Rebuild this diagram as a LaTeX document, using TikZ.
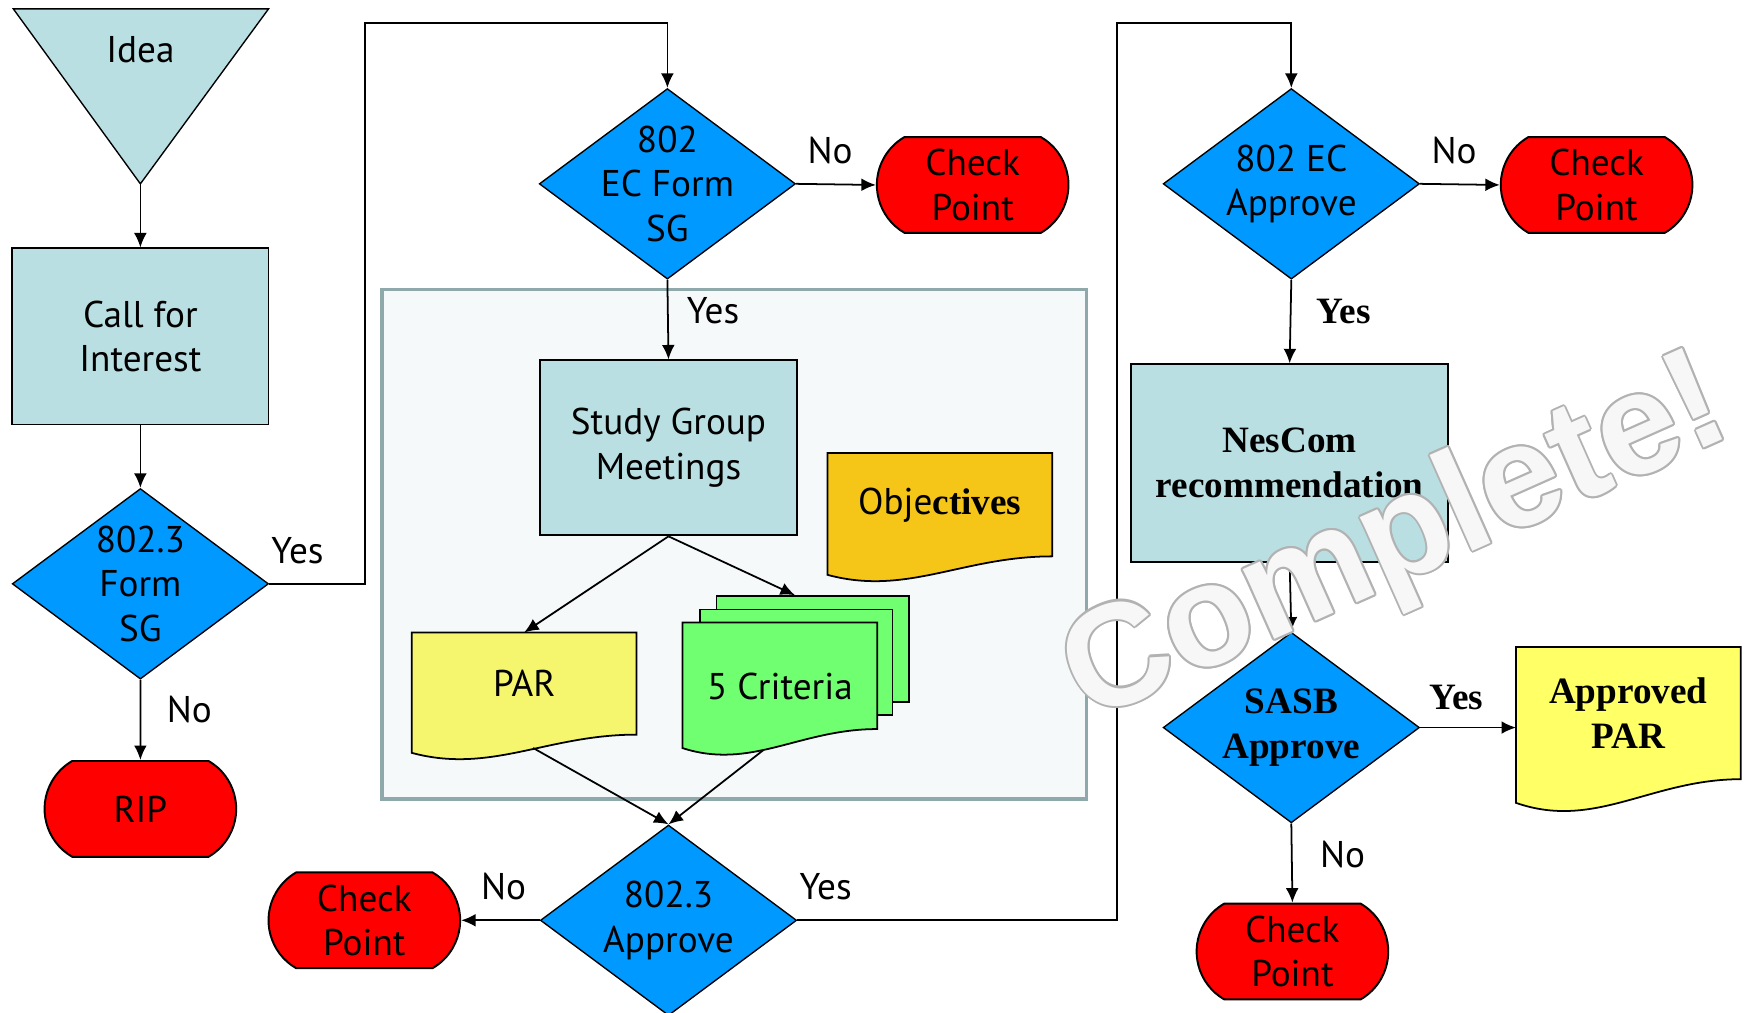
\documentclass[tikz,border=0pt]{standalone}
\usepackage{fontspec}
\setmainfont{Liberation Serif}
\setsansfont{PT Sans}
\newfontfamily\wmfont{Liberation Sans}
\usepackage{tikz}
\usetikzlibrary{arrows.meta, shapes.geometric, shapes.misc, calc, backgrounds}

\definecolor{paleblue}{HTML}{B9DFE2}
\definecolor{decblue}{HTML}{0099FF}
\definecolor{stopred}{HTML}{FF0000}
\definecolor{objgold}{HTML}{F5C518}
\definecolor{paryellow}{HTML}{F5F56E}
\definecolor{critgreen}{HTML}{70FF70}
\definecolor{aparyellow}{HTML}{FFFF66}
\definecolor{sgfill}{HTML}{F5F9FA}
\definecolor{sgedge}{HTML}{8FA9AA}

\tikzset{
  sans/.style={font=\sffamily\fontsize{19}{22.8}\selectfont},
  serif/.style={font=\rmfamily\bfseries\fontsize{19}{22.8}\selectfont},
  process/.style={rectangle, draw, line width=1pt, fill=paleblue, align=center, sans},
  decision/.style={diamond, draw, line width=0.7pt, fill=decblue, inner sep=0pt, minimum width=46mm, minimum height=34.2mm},
  terminal/.style={rounded rectangle, rounded rectangle arc length=120, draw, line width=1pt, fill=stopred, inner sep=0pt, minimum width=34.4mm, minimum height=17.2mm, align=center, sans},
  docbox/.style={rectangle, inner sep=0pt, align=center, sans},
  sheet/.style={rectangle, draw, line width=0.9pt, fill=critgreen, minimum width=34.6mm, minimum height=19mm},
  lbl/.style={inner sep=0pt, sans},
  arr/.style={-{Latex[length=2.6mm, width=2.3mm]}, line width=0.9pt},
  wmark/.style={font=\wmfont\bfseries\fontsize{74}{80}\selectfont, rotate=24, inner sep=0pt},
}

\newcommand{\docwave}[3]{(#1.north west) -- (#1.north east) -- (#1.south east)
  .. controls ($(#1.south east)+(-0.4*#2,0)$) and ($(#1.south east)+(-0.65*#2,0.39*#3)$)
  .. ($(#1.south west)+(0,0.18*#3)$) -- cycle}

\begin{document}
\begin{tikzpicture}[x=0.2mm, y=-0.2mm]
    \useasboundingbox (0,0) rectangle (1568,909);

    \draw[line width=0.7pt, fill=paleblue] (12,8) -- (241,8) -- (126,165) -- cycle;
    \node[lbl] (idea) at (126,45) {Idea};
    \coordinate (ideatip) at (126,165);

    \node[process, minimum width=46mm, minimum height=31.6mm] (call) at (126,302) {Call for\\Interest};
    \node[decision, label={[sans, align=center]center:{802.3\\Form\\SG}}] (form) at (126,524) {};
    \node[terminal] (rip) at (126,726) {RIP};

    \node[decision, label={[sans, align=center]center:{802\\EC Form\\SG}}] (ecform) at (599,165) {};
    \node[terminal] (cp1) at (873,166) {Check\\Point};

    \node[process, minimum width=46mm, minimum height=31.4mm] (study) at (600,402) {Study Group\\Meetings};
    \node[docbox, minimum width=40.2mm, minimum height=18.2mm] (par) at (470.5,613.5) {PAR};
    \node[docbox, minimum width=40.2mm, minimum height=18.4mm] (obj) at (843.5,453) {Obje{\rmfamily\bfseries ctives}};
    \node[docbox, minimum width=34.8mm, minimum height=19mm, label={[sans, yshift=-2mm]center:5 Criteria}] (crit) at (700,606.5) {};

    \node[decision, label={[sans, align=center]center:{802.3\\Approve}}] (approve) at (600,826) {};
    \node[terminal] (cp2) at (327,826) {Check\\Point};

    \node[decision, label={[sans, align=center]center:{802 EC\\Approve}}] (ecapp) at (1159,165) {};
    \node[terminal] (cp3) at (1433,166) {Check\\Point};

    \node[process, serif, minimum width=57mm, minimum height=35.4mm] (nescom) at (1157.5,415.5) {NesCom\\recommendation};
    \node[decision, label={[serif, align=center]center:{SASB\\Approve}}] (sasb) at (1159,653) {};
    \node[docbox, serif, minimum width=40.2mm, minimum height=23.6mm] (apar) at (1461.5,640) {Approved\\PAR};
    \node[terminal] (cp4) at (1160,854) {Check\\Point};

    \begin{pgfonlayer}{background}
        \node[draw=sgedge, fill=sgfill, line width=1.7pt, minimum width=126.4mm, minimum height=91.4mm] (sgbox) at (659,488.5) {};
        \node[sheet] (critb) at (729.5,582.5) {};
        \node[sheet] (critm) at (714.5,594.5) {};
        \filldraw[line width=0.9pt, fill=paryellow] \docwave{par}{201}{91};
        \filldraw[line width=0.9pt, fill=objgold] \docwave{obj}{201}{92};
        \filldraw[line width=0.9pt, fill=critgreen] \docwave{crit}{174}{95};
        \filldraw[line width=0.9pt, fill=aparyellow] \docwave{apar}{201}{118};
    \end{pgfonlayer}

    \coordinate (parout) at ([xshift=1.6mm, yshift=-2.4mm]par.south);
    \coordinate (critout) at ([xshift=-3mm, yshift=-3.8mm]crit.south);

    \draw[arr] (ideatip) -- (call);
    \draw[arr] (call) -- (form);
    \draw[arr] (form) -- (rip);
    \draw[arr] (form.east) -- ++(86,0) |- ([yshift=11.6mm]ecform.north) -- (ecform.north);
    \draw[arr] (ecform.east) -- (cp1.west);
    \draw[arr] (ecform.south) -- (study.north);
    \draw[arr] (study.south) -- (par.north);
    \draw[arr] (study.south) -- ([xshift=-3.2mm]critb.north);
    \draw[arr] (parout) -- (approve.north);
    \draw[arr] (critout) -- (approve.north);
    \draw[arr] (approve.west) -- (cp2.east);
    \draw[arr] (approve.east) -- ++(287,0) |- ([yshift=11.6mm]ecapp.north) -- (ecapp.north);
    \draw[arr] (ecapp.east) -- (cp3.west);
    \draw[arr] (ecapp.south) -- (nescom.north);
    \draw[arr] (nescom.south) -- (sasb.north);
    \draw[arr] (sasb.east) -- (sasb.east -| apar.west);
    \draw[arr] (sasb.south) -- (cp4.north);

    \node[lbl] (yes1) at (267,494) {Yes};
    \node[lbl] (no1) at (170,637) {No};
    \node[lbl] (no2) at (745,135) {No};
    \node[lbl] (yes2) at (640,279) {Yes};
    \node[lbl] (no3) at (452,796) {No};
    \node[lbl] (yes3) at (741,796) {Yes};
    \node[lbl] (no4) at (1305,135) {No};
    \node[lbl, serif] (yes4) at (1206,280) {Yes};
    \node[lbl, serif] (yes5) at (1307,626) {Yes};
    \node[lbl] (no5) at (1205,767) {No};

    \coordinate (wmc) at (1254,488);
    \foreach \a in {0,30,...,330}
        \node[wmark, text=gray!60] (wm\a) at ($(wmc)+(\a:1.8)$) {Complete!};
    \node[wmark, text=white, opacity=0.9] (wm) at (wmc) {Complete!};
\end{tikzpicture}
\end{document}
